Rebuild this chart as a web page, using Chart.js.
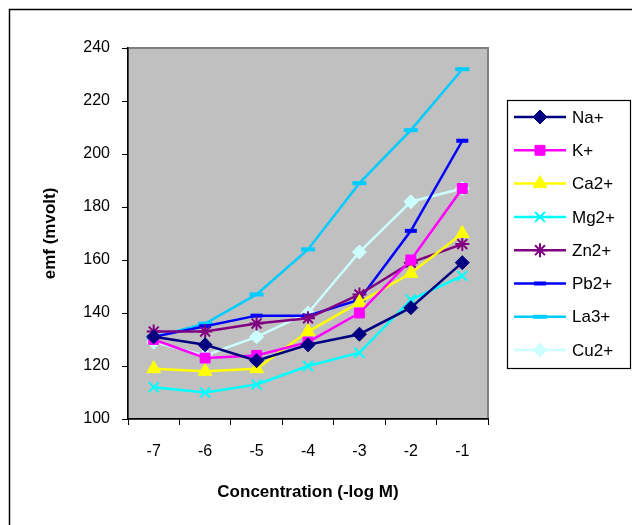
<!DOCTYPE html>
<html>
<head>
<meta charset="utf-8">
<script src="https://cdn.jsdelivr.net/npm/chart.js@4"></script>
<style>
  html, body { margin: 0; padding: 0; background: #fff; }
  #wrap { width: 632px; height: 525px; }
</style>
</head>
<body>
<div id="wrap"><canvas id="grafico" width="632" height="525"></canvas></div>
<script>
const concentraciones = ["-7", "-6", "-5", "-4", "-3", "-2", "-1"];
const ticksY = [100, 120, 140, 160, 180, 200, 220, 240];

const na = [131, 128, 122, 128, 132, 142, 159];
const k = [130, 123, 124, 129, 140, 160, 187];
const ca = [119, 118, 119, 133, 144, 155, 170];
const mg = [112, 110, 113, 120, 125, 145, 154];
const zn = [133, 133, 136, 138, 147, 159, 166];
const pb = [131, 135, 139, 139, 145, 171, 205];
const la = [131, 136, 147, 164, 189, 209, 232];
const cu = [129, 124, 131, 140, 163, 182, 187];

const serie = (label, data, color, estilo, radio, extra) => Object.assign({
    label: label,
    data: data,
    borderColor: color,
    backgroundColor: color,
    borderWidth: 2.5,
    pointStyle: estilo,
    pointRadius: radio,
    pointHoverRadius: radio,
    pointBackgroundColor: color,
    pointBorderColor: color,
    pointBorderWidth: 1,
    tension: 0
}, extra || {});

const datasets = [
    serie("Na+", na, "#000080", "rectRot", 7),
    serie("K+", k, "#FF00FF", "rect", 7),
    serie("Ca2+", ca, "#FFFF00", "triangle", 8),
    serie("Mg2+", mg, "#00FFFF", "crossRot", 7, { pointBorderWidth: 2 }),
    serie("Zn2+", zn, "#800080", "star", 7, { pointBorderWidth: 2 }),
    serie("Pb2+", pb, "#0000FF", "line", 6, { pointBorderWidth: 4 }),
    serie("La3+", la, "#00CCFF", "line", 7, { pointBorderWidth: 4 }),
    serie("Cu2+", cu, "#CCFFFF", "rectRot", 7)
];

// fondo gris, marco exterior y leyenda propia
const decoracion = {
    id: "decoracion",
    beforeDraw(chart) {
        const ctx = chart.ctx;
        const a = chart.chartArea;
        ctx.save();
        ctx.strokeStyle = "#000";
        ctx.lineWidth = 1.5;
        ctx.strokeRect(9.5, 9.5, 800, 800);
        ctx.fillStyle = "#C0C0C0";
        ctx.fillRect(a.left, a.top, a.right - a.left, a.bottom - a.top);
        ctx.strokeStyle = "#808080";
        ctx.lineWidth = 2;
        ctx.strokeRect(a.left, a.top, a.right - a.left, a.bottom - a.top);
        ctx.restore();
    },
    afterDraw(chart) {
        const ctx = chart.ctx;
        ctx.save();
        ctx.strokeStyle = "#000";
        ctx.lineWidth = 1.2;
        ctx.fillStyle = "#fff";
        ctx.fillRect(507, 100, 124, 269);
        ctx.strokeRect(507.5, 100.5, 123, 268);
        ctx.font = "17px 'Liberation Sans', Arial, sans-serif";
        ctx.textBaseline = "middle";
        chart.data.datasets.forEach((ds, i) => {
            const y = 117 + i * 33.3;
            ctx.strokeStyle = ds.borderColor;
            ctx.lineWidth = 2.5;
            ctx.beginPath();
            ctx.moveTo(514, y);
            ctx.lineTo(566, y);
            ctx.stroke();
            ctx.lineWidth = ds.pointBorderWidth;
            ctx.fillStyle = ds.pointBackgroundColor;
            ctx.strokeStyle = ds.pointBorderColor;
            Chart.helpers.drawPoint(ctx, {
                pointStyle: ds.pointStyle,
                radius: ds.pointRadius,
                borderWidth: ds.pointBorderWidth,
                rotation: 0
            }, 540, y);
            ctx.fillStyle = "#000";
            ctx.fillText(ds.label, 572, y + 1);
        });
        ctx.restore();
    }
};

const fuente = { family: "'Liberation Sans', Arial, sans-serif", size: 16 };

new Chart(document.getElementById("grafico").getContext("2d"), {
    type: "line",
    data: { labels: concentraciones, datasets: datasets },
    plugins: [decoracion],
    options: {
        responsive: false,
        animation: false,
        layout: { padding: { left: 0, top: 48, right: 144, bottom: 0 } },
        plugins: {
            legend: { display: false },
            tooltip: { enabled: false }
        },
        scales: {
            x: {
                offset: true,
                afterFit: s => { s.height = 106; },
                grid: {
                    offset: true,
                    drawOnChartArea: false,
                    drawTicks: true,
                    tickLength: 6,
                    color: "#000",
                    lineWidth: 1
                },
                border: { color: "#000", width: 1.5 },
                ticks: { color: "#000", font: fuente, padding: 17, maxRotation: 0 },
                title: {
                    display: true,
                    text: "Concentration (-log M)",
                    color: "#000",
                    font: { family: fuente.family, size: 17, weight: "bold" },
                    padding: { top: 0, bottom: 22 }
                }
            },
            y: {
                min: 100,
                max: 240,
                afterFit: s => { s.width = 128; },
                afterBuildTicks: s => { s.ticks = ticksY.map(v => ({ value: v })); },
                grid: {
                    drawOnChartArea: false,
                    drawTicks: true,
                    tickLength: 6,
                    color: "#000",
                    lineWidth: 1
                },
                border: { color: "#000", width: 1.5 },
                ticks: { color: "#000", font: fuente, padding: 12 },
                title: {
                    display: true,
                    text: "emf (mvolt)",
                    color: "#000",
                    font: { family: fuente.family, size: 17, weight: "bold" },
                    padding: { top: 40, bottom: 0 }
                }
            }
        }
    }
});
</script>
</body>
</html>
